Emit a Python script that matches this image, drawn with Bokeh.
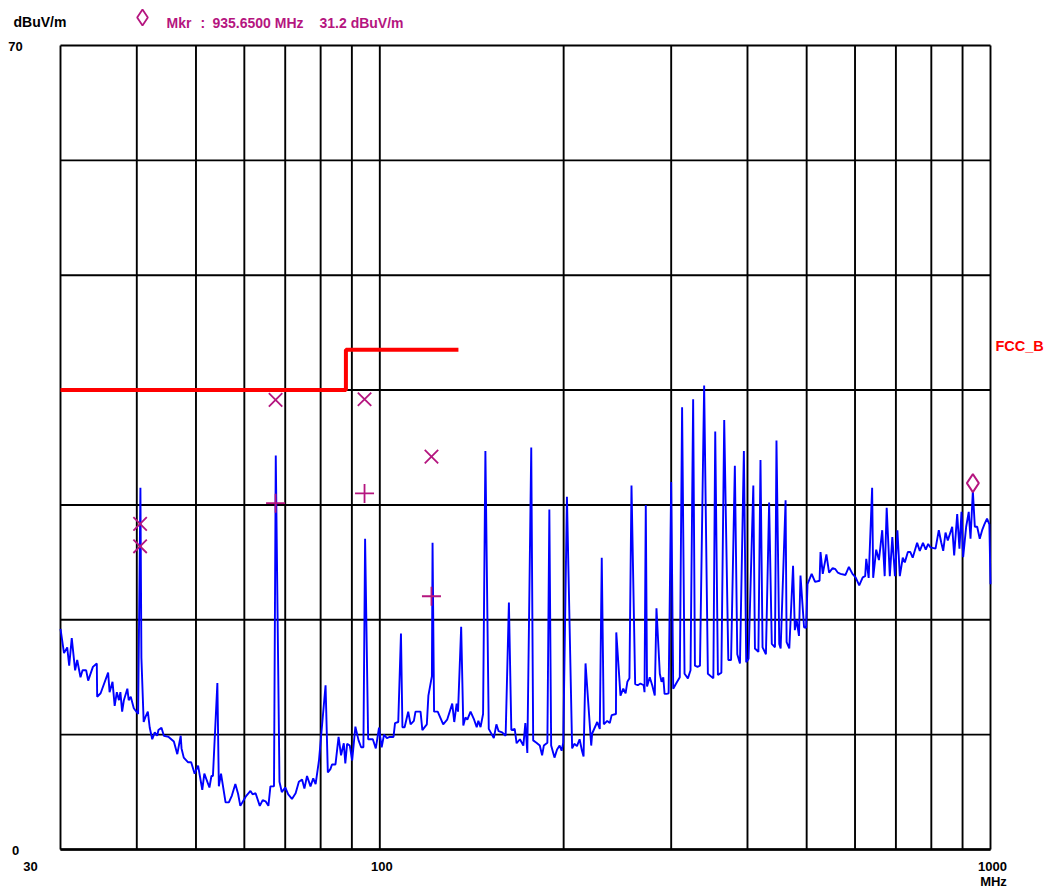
import math
from bokeh.plotting import figure
from bokeh.models import Range1d
from bokeh.embed import file_html
from bokeh.resources import INLINE

# ---------------- data ----------------
freq_mhz = [
    30.0, 30.4, 30.77, 31.0, 31.3, 31.7, 31.95, 32.35, 32.6, 33.05, 33.3, 33.9, 34.4, 34.45, 34.9,
    35.9, 36.1, 36.5, 36.8, 37.1, 37.4, 37.6, 37.85, 38.1, 38.6, 38.8, 39.1, 39.55, 40.2, 40.55,
    40.7, 41.05, 41.3, 41.7, 42.0, 42.4, 42.8, 43.2, 43.4, 43.9, 44.3, 45.1, 46.0, 46.6, 47.2,
    47.35, 47.75, 48.5, 49.1, 49.75, 50.4, 51.2, 51.6, 52.6, 53.0, 53.3, 54.2, 54.5, 54.95, 55.9,
    56.6, 57.25, 58.0, 58.6, 59.1, 60.3, 61.4, 61.9, 62.6, 63.6, 64.3, 65.0, 65.7, 66.2, 67.1,
    67.55, 68.5, 69.1, 70.0, 70.8, 71.8, 72.8, 73.7, 74.6, 75.25, 76.0, 77.0, 77.8, 78.5, 79.5,
    81.5, 82.2, 83.0, 83.5, 84.6, 85.6, 86.4, 87.3, 87.8, 88.4, 89.3, 90.1, 91.2, 92.3, 93.2,
    94.0, 94.6, 95.7, 96.2, 97.4, 98.5, 99.7, 100.7, 101.6, 102.7, 103.8, 105.3, 105.9, 107.2, 108.3,
    108.9, 109.8, 111.3, 112.3, 113.7, 114.4, 116.6, 117.4, 119.4, 120.1, 121.7, 122.0, 122.7, 124.4, 127.0,
    128.9, 131.4, 132.4, 133.6, 134.3, 135.9, 137.0, 138.1, 139.1, 140.8, 142.7, 144.1, 145.0, 146.2, 147.6,
    148.9, 150.8, 153.7, 155.2, 156.5, 158.6, 160.7, 162.7, 164.2, 166.3, 167.5, 169.6, 171.8, 173.1, 174.4,
    177.0, 178.3, 180.5, 182.8, 184.4, 185.6, 188.1, 189.5, 190.8, 193.2, 195.1, 197.0, 198.5, 199.7, 202.5,
    206.5, 208.2, 210.3, 212.4, 214.3, 215.6, 217.2, 221.9, 222.7, 227.0, 229.2, 230.9, 232.7, 235.7, 238.0,
    239.7, 243.6, 243.9, 247.8, 250.4, 252.6, 254.3, 256.3, 258.3, 261.9, 264.5, 267.2, 270.4, 271.3, 272.6,
    273.9, 276.7, 279.3, 282.0, 283.8, 287.4, 289.3, 291.2, 292.6, 294.9, 297.1, 300.0, 302.3, 306.8, 309.9,
    312.6, 315.5, 319.5, 322.7, 325.9, 328.1, 331.3, 334.4, 339.7, 344.5, 351.7, 354.2, 357.8, 362.5, 366.4,
    372.1, 376.0, 381.4, 384.9, 388.8, 394.6, 398.1, 401.6, 408.9, 411.4, 416.8, 420.1, 423.4, 428.8, 434.0,
    438.4, 443.7, 446.2, 450.9, 453.3, 461.8, 463.6, 468.3, 475.0, 478.2, 481.4, 485.7, 488.5, 495.1, 499.0,
    501.6, 509.5, 516.1, 524.9, 526.8, 531.3, 538.6, 544.1, 551.5, 557.2, 562.5, 568.0, 578.8, 586.3, 594.3,
    601.3, 609.6, 617.7, 623.4, 626.0, 631.7, 640.0, 642.5, 649.9, 656.6, 664.8, 671.0, 676.1, 684.1, 690.6,
    697.5, 704.0, 710.4, 718.3, 723.9, 732.3, 739.2, 745.8, 758.3, 766.0, 775.2, 783.4, 790.6, 797.5, 812.8,
    822.9, 830.3, 836.7, 844.0, 851.3, 865.5, 872.0, 882.0, 889.5, 896.4, 902.0, 912.3, 921.2, 927.4, 935.65,
    942.6, 951.0, 960.3, 969.0, 977.2, 987.0, 995.8, 1000.0,
]
level_dbuv = [
    19.2, 17.1, 17.6, 16.0, 18.4, 15.6, 16.5, 15.0, 15.6, 15.6, 14.7, 15.9, 16.2, 13.3, 13.6,
    15.4, 13.7, 14.6, 12.5, 13.7, 13.0, 13.7, 12.0, 13.0, 14.0, 13.0, 13.3, 12.3, 11.8, 31.5,
    16.7, 11.1, 11.5, 12.0, 10.6, 9.6, 10.2, 9.9, 10.4, 10.6, 9.9, 9.8, 9.4, 8.3, 9.9,
    8.8, 8.0, 7.6, 7.6, 6.6, 7.3, 5.2, 6.6, 5.4, 6.4, 6.4, 14.5, 5.5, 6.6, 4.1,
    4.1, 4.7, 5.7, 4.85, 3.8, 4.6, 5.1, 4.8, 4.9, 3.8, 4.3, 4.2, 3.8, 5.5, 5.5,
    34.3, 5.9, 5.0, 5.4, 4.8, 4.4, 4.9, 5.9, 6.1, 5.3, 6.4, 5.5, 6.2, 5.7, 7.75,
    14.3, 6.7, 7.0, 7.4, 7.4, 9.8, 8.2, 9.25, 7.5, 9.2, 9.05, 7.75, 10.7, 9.5, 8.9,
    8.9, 27.05, 9.6, 9.6, 9.6, 8.8, 10.6, 8.9, 10.0, 9.7, 9.8, 9.8, 11.0, 11.1, 18.8,
    10.65, 10.65, 12.0, 10.9, 11.2, 12.0, 12.0, 10.4, 10.9, 13.4, 15.1, 26.7, 12.0, 12.0, 10.9,
    11.3, 12.7, 11.1, 12.7, 12.0, 19.4, 10.8, 11.5, 11.3, 12.0, 11.3, 10.65, 11.2, 10.65, 11.8,
    34.7, 10.5, 9.7, 10.9, 10.3, 10.2, 9.9, 21.5, 10.4, 10.5, 9.25, 9.6, 9.05, 11.0, 8.4,
    35.0, 9.5, 9.3, 9.05, 8.2, 9.05, 9.3, 29.6, 9.05, 8.0, 8.7, 9.05, 8.6, 9.3, 30.7,
    8.8, 9.2, 9.0, 9.6, 8.6, 8.1, 16.2, 9.05, 10.1, 11.1, 10.5, 25.4, 10.9, 11.2, 11.0,
    11.7, 11.8, 18.9, 13.4, 14.0, 13.6, 14.6, 14.9, 31.7, 14.4, 14.3, 14.45, 14.3, 13.7, 30.0,
    14.2, 15.0, 14.3, 13.4, 21.0, 15.3, 14.6, 15.0, 13.55, 13.55, 13.6, 32.0, 14.0, 14.6, 15.0,
    38.5, 15.3, 14.9, 15.6, 39.2, 16.0, 15.9, 16.0, 40.4, 15.3, 14.9, 36.4, 15.2, 15.4, 37.4,
    16.5, 16.5, 33.4, 17.0, 16.2, 34.7, 16.3, 16.6, 31.7, 17.5, 17.2, 33.9, 17.6, 17.0, 30.2,
    17.9, 17.6, 35.6, 17.9, 17.5, 30.4, 18.05, 17.5, 24.7, 19.1, 20.0, 18.6, 23.85, 19.35, 19.3,
    23.1, 24.0, 23.3, 23.4, 25.9, 24.0, 25.7, 24.1, 24.5, 24.4, 24.1, 24.0, 23.9, 24.6, 24.0,
    23.7, 23.0, 23.7, 23.8, 25.3, 23.65, 31.5, 23.65, 26.1, 25.2, 27.8, 23.8, 29.75, 23.8, 27.2,
    23.8, 27.8, 23.8, 25.4, 25.0, 25.9, 25.9, 25.4, 26.7, 26.0, 26.7, 26.1, 26.6, 26.3, 26.2,
    27.8, 26.75, 26.0, 27.6, 26.9, 28.1, 25.6, 29.2, 26.2, 29.4, 25.45, 28.1, 29.4, 27.05, 31.2,
    28.1, 28.1, 27.05, 27.8, 28.3, 28.8, 28.3, 23.1,
]

limit_freq = [30, 88, 88, 134.5]
limit_level = [40.0, 40.0, 43.5, 43.5]
limit_name = "FCC_B"

qp_freq = [40.5, 40.5, 67.5, 94.4, 121.5]
qp_level = [28.35, 26.4, 39.15, 39.2, 34.2]

avg_freq = [67.5, 94.4, 121.5]
avg_level = [30.15, 31.0, 22.05]

mkr_freq = [935.65]
mkr_level = [31.2]

x_grid = [30, 40, 50, 60, 70, 80, 90, 100, 200, 300, 400, 500, 600, 700, 800, 900, 1000]
y_grid = [0, 10, 20, 30, 40, 50, 60, 70]
x_tick_vals = [100, 1000]
x_tick_text = ["100", "1000"]
y_tick_vals = [70, 0]
y_tick_text = ["70", "0"]
x_unit = "MHz"
y_unit = "dBuV/m"

# ---------------- layout (pixels) ----------------
W, H = 1046, 888
PL, PR, PT, PB = 60, 990, 45, 849          # plot box in canvas pixels
x_min, x_max = x_grid[0], x_grid[-1]
y_min, y_max = y_grid[0], y_grid[-1]
ppd = (PR - PL) / math.log10(x_max / x_min)   # px per decade
ppu = (PB - PT) / (y_max - y_min)             # px per dB
xr = Range1d(x_min / 10 ** (PL / ppd), x_max * 10 ** ((W - PR) / ppd))
yr = Range1d(y_min - (H - PB) / ppu, y_max + PT / ppu)

MAGENTA = "#B5157F"
FONT = "Liberation Sans"
DIAMOND_LIFT_PX = 8          # marker symbol drawn just above the marked point

p = figure(width=W, height=H, x_axis_type="log", x_range=xr, y_range=yr,
           output_backend="svg", toolbar_location=None,
           min_border_left=0, min_border_right=0, min_border_top=0, min_border_bottom=0)
p.title.visible = False
p.axis.visible = False
p.grid.visible = False
p.outline_line_color = None
p.background_fill_color = "white"
p.border_fill_color = "white"

# grid (drawn through the scales)
p.segment(x0=x_grid, y0=[y_min] * len(x_grid), x1=x_grid, y1=[y_max] * len(x_grid),
          line_color="black", line_width=1.9)
p.segment(x0=[x_min] * len(y_grid), y0=y_grid, x1=[x_max] * len(y_grid), y1=y_grid,
          line_color="black", line_width=1.9)
p.segment(x0=[x_min], y0=[y_min], x1=[x_max], y1=[y_min], line_color="black", line_width=2.6)

# trace
p.line(freq_mhz, level_dbuv, line_color="#0000FF", line_width=1.9)

# limit line
p.line(limit_freq, limit_level, line_color="#FF0000", line_width=4)

# QP (x) and AV (+) markers
p.scatter(qp_freq, qp_level, marker="x", size=19, line_color=MAGENTA, line_width=1.8)
p.scatter(avg_freq, avg_level, marker="cross", size=19, line_color=MAGENTA, line_width=1.8)

# marker diamond sitting on the peak
p.scatter(mkr_freq, [v + DIAMOND_LIFT_PX / ppu for v in mkr_level], marker="diamond",
          size=18, fill_color=None, line_color=MAGENTA, line_width=1.9)

def txt(x, y, s, dx=0, dy=0, color="black", size="13px", align="center",
        font=FONT, style="bold"):
    p.text(x=x, y=y, text=s, x_offset=dx, y_offset=dy, text_color=color,
           text_font={"value": font}, text_font_style=style, text_font_size=size,
           text_align=align, text_baseline="middle")

# tick labels
txt([x_min] * len(y_tick_vals), y_tick_vals, y_tick_text, dx=-45, dy=1)
txt(x_tick_vals, [y_min] * len(x_tick_vals), x_tick_text, dx=2, dy=17)
txt([x_min], [y_min], [str(x_min)], dx=-30, dy=17)
txt([x_max], [y_min], [x_unit], dx=3, dy=32)
txt([x_min], [y_max], [y_unit], dx=-47, dy=-24, size="14px", align="left")

# limit name
txt([x_max], [limit_level[-1]], [limit_name], dx=5, dy=-4, color="#FF0000",
    size="14.5px", align="left")

# marker readout header: symbol + text, placed relative to the plot's top-left corner
HDR_SYM_DX, HDR_SYM_DY = 82, 28
p.scatter([x_min * 10 ** (HDR_SYM_DX / ppd)], [y_max + HDR_SYM_DY / ppu], marker="diamond",
          size=16, fill_color=None, line_color=MAGENTA, line_width=1.8)
hdr_parts = ["Mkr", ":", "%.4f MHz" % mkr_freq[0], "%.1f dBuV/m" % mkr_level[0]]
hdr_dx = [106, 140, 152, 259]
for s, dx in zip(hdr_parts, hdr_dx):
    txt([x_min], [y_max], [s], dx=dx, dy=-23, color=MAGENTA, size="14px", align="left")

open("out.html", "w").write(file_html(p, INLINE))
